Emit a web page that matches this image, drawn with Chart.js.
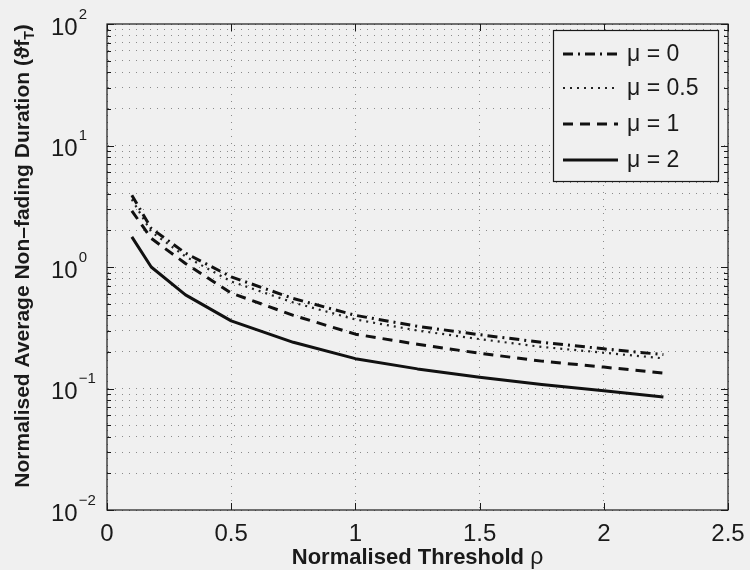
<!DOCTYPE html>
<html>
<head>
<meta charset="utf-8">
<script src="https://cdn.jsdelivr.net/npm/chart.js@4/dist/chart.umd.min.js"></script>
<style>
  html, body { margin: 0; padding: 0; background: #f0f0f0; }
  canvas { display: block; }
</style>
</head>
<body>
<canvas id="c" width="750" height="570"></canvas>
<script>
// ---- data ----
const rho  = [0.1, 0.178, 0.316, 0.5, 0.75, 1.0, 1.25, 1.5, 1.75, 2.0, 2.24];
const mu0  = [3.9, 2.08, 1.30, 0.83, 0.55, 0.40, 0.325, 0.277, 0.24, 0.212, 0.19];
const mu05 = [3.6, 1.95, 1.22, 0.76, 0.51, 0.37, 0.30, 0.255, 0.22, 0.197, 0.177];
const mu1  = [2.9, 1.72, 1.07, 0.61, 0.40, 0.28, 0.231, 0.195, 0.168, 0.150, 0.134];
const mu2  = [1.77, 1.0, 0.59, 0.36, 0.24, 0.176, 0.145, 0.124, 0.108, 0.096, 0.085];
const seriesLabels = ['μ = 0', 'μ = 0.5', 'μ = 1', 'μ = 2'];
const xTickValues = [0, 0.5, 1, 1.5, 2, 2.5];
const xTickLabels = ['0', '0.5', '1', '1.5', '2', '2.5'];
const yDecadeExponents = [-2, -1, 0, 1, 2];
const yTickLabelBase = '10';
const yTickLabelExp = ['−2', '−1', '0', '1', '2'];
const xTitle = 'Normalised Threshold ';
const xTitleSym = 'ρ';
const yTitleMain = 'Normalised Average Non–fading Duration (ϑf';
const yTitleSub = 'T';
const yTitleEnd = ')';

const BG = '#f0f0f0';
const FONT = '"Liberation Sans", Arial, Helvetica, sans-serif';

function pts(ys) { return rho.map((x, i) => ({ x: x, y: ys[i] })); }

// y tick values: all 1..9 x 10^k within range
const yTickValues = [];
yDecadeExponents.forEach((e, i) => {
  for (let m = 1; m <= 9; m++) {
    if (i === yDecadeExponents.length - 1 && m > 1) break;
    yTickValues.push(m * Math.pow(10, e));
  }
});

const datasets = [
  { label: seriesLabels[0], data: pts(mu0),  borderColor: '#111', borderWidth: 3,   borderDash: [10, 5, 2, 5] },
  { label: seriesLabels[1], data: pts(mu05), borderColor: '#222', borderWidth: 2.2, borderDash: [2, 5] },
  { label: seriesLabels[2], data: pts(mu1),  borderColor: '#111', borderWidth: 3,   borderDash: [10, 7] },
  { label: seriesLabels[3], data: pts(mu2),  borderColor: '#111', borderWidth: 3,   borderDash: [] },
].map(d => Object.assign(d, { pointRadius: 0, fill: false, tension: 0, borderCapStyle: 'butt', borderJoinStyle: 'round' }));

const decor = {
  id: 'decor',
  beforeDraw(chart) {
    const ctx = chart.ctx;
    ctx.save();
    ctx.fillStyle = BG;
    ctx.fillRect(0, 0, chart.width, chart.height);
    ctx.restore();
  },
  afterDraw(chart) {
    const ctx = chart.ctx;
    const a = chart.chartArea;
    const xs = chart.scales.x, ys = chart.scales.y;
    ctx.save();
    // box
    ctx.strokeStyle = '#1a1a1a';
    ctx.lineWidth = 1.2;
    ctx.setLineDash([]);
    ctx.strokeRect(a.left, a.top, a.right - a.left, a.bottom - a.top);
    // y ticks (inward, both sides)
    ctx.lineWidth = 1;
    yTickValues.forEach(v => {
      const y = Math.round(ys.getPixelForValue(v)) + 0.5;
      const major = Math.abs(Math.log10(v) - Math.round(Math.log10(v))) < 1e-9;
      const len = major ? 7 : 4;
      ctx.beginPath();
      ctx.moveTo(a.left, y); ctx.lineTo(a.left + len, y);
      ctx.moveTo(a.right, y); ctx.lineTo(a.right - len, y);
      ctx.stroke();
    });
    // x ticks (inward, top & bottom)
    xTickValues.forEach(v => {
      const x = Math.round(xs.getPixelForValue(v)) + 0.5;
      ctx.beginPath();
      ctx.moveTo(x, a.bottom); ctx.lineTo(x, a.bottom - 7);
      ctx.moveTo(x, a.top); ctx.lineTo(x, a.top + 7);
      ctx.stroke();
    });
    // x tick labels
    ctx.fillStyle = '#1a1a1a';
    ctx.font = '24px ' + FONT;
    ctx.textAlign = 'center';
    ctx.textBaseline = 'alphabetic';
    xTickValues.forEach((v, i) => {
      ctx.fillText(xTickLabels[i], xs.getPixelForValue(v), a.bottom + 31);
    });
    // y tick labels 10^k
    yDecadeExponents.forEach((e, i) => {
      const y = ys.getPixelForValue(Math.pow(10, e));
      ctx.textAlign = 'left';
      ctx.font = '24px ' + FONT;
      const bx = 51;
      ctx.fillText(yTickLabelBase, bx, y + 10.5);
      const w = ctx.measureText(yTickLabelBase).width;
      ctx.font = '15px ' + FONT;
      ctx.fillText(yTickLabelExp[i], bx + w + 1, y - 5.5);
    });
    // x title
    ctx.font = 'bold 22px ' + FONT;
    const w1 = ctx.measureText(xTitle).width;
    ctx.font = '23px ' + FONT;
    const w2 = ctx.measureText(xTitleSym).width;
    const cx = (a.left + a.right) / 2;
    let sx = cx - (w1 + w2) / 2;
    ctx.textAlign = 'left';
    ctx.font = 'bold 22px ' + FONT;
    ctx.fillText(xTitle, sx, 564);
    ctx.font = '23px ' + FONT;
    ctx.fillText(xTitleSym, sx + w1, 564);
    // y title (rotated)
    ctx.save();
    ctx.translate(29, 256);
    ctx.rotate(-Math.PI / 2);
    ctx.font = 'bold 21px ' + FONT;
    const m1 = ctx.measureText(yTitleMain).width;
    const m3 = ctx.measureText(yTitleEnd).width;
    ctx.font = 'bold 14px ' + FONT;
    const m2 = ctx.measureText(yTitleSub).width;
    let tx = -(m1 + m2 + m3) / 2;
    ctx.font = 'bold 21px ' + FONT;
    ctx.fillText(yTitleMain, tx, 0);
    ctx.font = 'bold 14px ' + FONT;
    ctx.fillText(yTitleSub, tx + m1, 5);
    ctx.font = 'bold 21px ' + FONT;
    ctx.fillText(yTitleEnd, tx + m1 + m2, 0);
    ctx.restore();
    // legend
    const L = { x: 553.5, y: 30.5, w: 165, h: 151 };
    ctx.fillStyle = BG;
    ctx.fillRect(L.x, L.y, L.w, L.h);
    ctx.strokeStyle = '#1a1a1a';
    ctx.lineWidth = 1.2;
    ctx.setLineDash([]);
    ctx.strokeRect(L.x, L.y, L.w, L.h);
    const rowY = [54, 88, 124, 160];
    chart.data.datasets.forEach((ds, i) => {
      const y = rowY[i];
      ctx.save();
      ctx.strokeStyle = ds.borderColor;
      ctx.lineWidth = ds.borderWidth;
      ctx.setLineDash(ds.borderDash || []);
      ctx.lineCap = 'butt';
      ctx.beginPath();
      ctx.moveTo(563, y); ctx.lineTo(618, y);
      ctx.stroke();
      ctx.restore();
      ctx.fillStyle = '#1a1a1a';
      ctx.font = '23px ' + FONT;
      ctx.textAlign = 'left';
      ctx.textBaseline = 'middle';
      ctx.fillText(ds.label, 627, y + 1);
    });
    ctx.restore();
  }
};

new Chart(document.getElementById('c'), {
  type: 'line',
  data: { datasets },
  options: {
    responsive: false,
    animation: false,
    events: [],
    layout: { padding: { left: 0, top: 24, right: 22, bottom: 0 } },
    plugins: { legend: { display: false }, tooltip: { enabled: false } },
    scales: {
      x: {
        type: 'linear', min: 0, max: 2.5,
        afterBuildTicks: s => { s.ticks = xTickValues.map(v => ({ value: v })); },
        afterFit: s => { s.height = 60; },
        ticks: { display: false },
        grid: { color: '#8a8a8a', lineWidth: 1, drawTicks: false },
        border: { display: true, color: 'rgba(0,0,0,0)', dash: [1, 6] }
      },
      y: {
        type: 'logarithmic', min: 0.01, max: 100,
        afterBuildTicks: s => { s.ticks = yTickValues.map(v => ({ value: v })); },
        afterFit: s => { s.width = 107; },
        ticks: { display: false },
        grid: { color: '#8a8a8a', lineWidth: 1, drawTicks: false },
        border: { display: true, color: 'rgba(0,0,0,0)', dash: [1, 6] }
      }
    }
  },
  plugins: [decor]
});
</script>
</body>
</html>
